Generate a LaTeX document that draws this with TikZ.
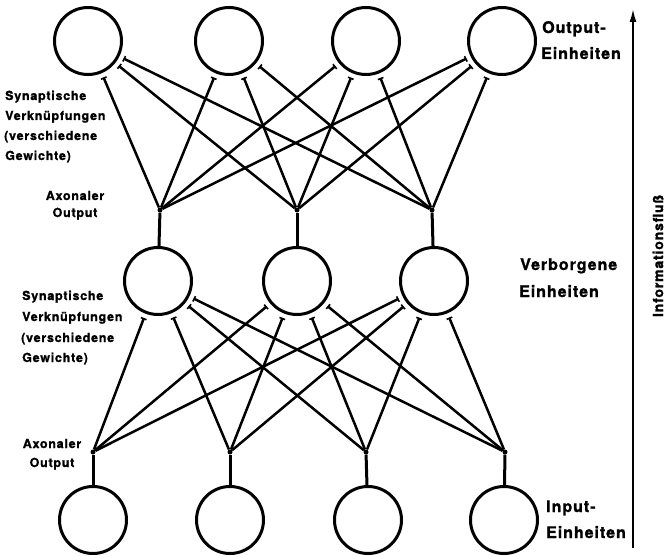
\documentclass[tikz,border=0pt]{standalone}
\usepackage{fontspec}
\setmainfont{TeX Gyre Heros}
\newfontfamily\lblfont[LetterSpace=6,FakeBold=1.2]{TeX Gyre Heros}
\usetikzlibrary{arrows.meta}

\begin{document}
\begin{tikzpicture}[x=1pt,y=-1pt,
  unit/.style={circle, draw, line width=3pt, minimum size=67pt, inner sep=0pt},
  junc/.style={circle, fill, minimum size=5pt, inner sep=0pt},
  syn/.style={line width=2.5pt, shorten >=4.5pt, -{Bar[width=6pt,line width=1.6pt]}},
  axon/.style={line width=3pt},
  small/.style={font=\lblfont\bfseries\fontsize{12.5}{15}\selectfont, inner sep=0pt},
  big/.style={font=\lblfont\bfseries\fontsize{16}{19}\selectfont, inner sep=0pt}]

\useasboundingbox (0,0) rectangle (666,556);

% units of the three layers
\node[unit] (o1) at (88,41) {};
\node[unit] (o2) at (229,41) {};
\node[unit] (o3) at (366,41) {};
\node[unit] (o4) at (502,41) {};

\node[unit] (h1) at (158,281) {};
\node[unit] (h2) at (297,281) {};
\node[unit] (h3) at (434,281) {};

\node[unit] (i1) at (93,520) {};
\node[unit] (i2) at (230,520) {};
\node[unit] (i3) at (368,520) {};
\node[unit] (i4) at (504,520) {};

% branching points of the axons
\node[junc] (ja1) at (160,210) {};
\node[junc] (ja2) at (297,210) {};
\node[junc] (ja3) at (432,210) {};

\node[junc] (jb1) at (93,452) {};
\node[junc] (jb2) at (230,452) {};
\node[junc] (jb3) at (366,452) {};
\node[junc] (jb4) at (505,452) {};

% axons
\foreach \k in {1,2,3} \draw[axon] (h\k) -- (ja\k);
\foreach \k in {1,2,3,4} \draw[axon] (i\k) -- (jb\k);

% synaptic connections hidden -> output
\foreach \a in {1,2,3}
  \foreach \b in {1,2,3,4}
    \draw[syn] (ja\a) -- (o\b);

% synaptic connections input -> hidden
\foreach \a in {1,2,3,4}
  \foreach \b in {1,2,3}
    \draw[syn] (jb\a) -- (h\b);

% direction of information flow
\coordinate (flowlow) at (633,548);
\coordinate (flowhigh) at (633,9);
\draw[line width=1.8pt, -{Latex[length=13pt,width=7pt]}] (flowlow) -- (flowhigh);
\node[small, rotate=90, font=\lblfont\bfseries\fontsize{14}{16}\selectfont] (flow) at (658,256) {Informationsfluß};

% labels
\node[big, anchor=base west] (outA) at (542,33) {Output-};
\node[big, anchor=base west] (outB) at (541,59) {Einheiten};
\node[big, anchor=base west] (hidA) at (520,270) {Verborgene};
\node[big, anchor=base west] (hidB) at (519,297) {Einheiten};
\node[big, anchor=base west] (inA) at (546,512) {Input-};
\node[big, anchor=base west] (inB) at (546,538) {Einheiten};

\node[small, anchor=base west] (synA1) at (5,100) {Synaptische};
\node[small, anchor=base west] (synA2) at (5,120) {Verknüpfungen};
\node[small, anchor=base west] (synA3) at (4,140) {(verschiedene};
\node[small, anchor=base west] (synA4) at (5,160) {Gewichte)};

\node[small, anchor=base] (axA1) at (75,200) {Axonaler};
\node[small, anchor=base] (axA2) at (75,217) {Output};

\node[small, anchor=base west] (synB1) at (22,300) {Synaptische};
\node[small, anchor=base west] (synB2) at (22,321) {Verknüpfungen};
\node[small, anchor=base west] (synB3) at (21,342) {(verschiedene};
\node[small, anchor=base west] (synB4) at (22,362) {Gewichte)};

\node[small, anchor=base] (axB1) at (52,448) {Axonaler};
\node[small, anchor=base] (axB2) at (52,467) {Output};
\end{tikzpicture}
\end{document}
